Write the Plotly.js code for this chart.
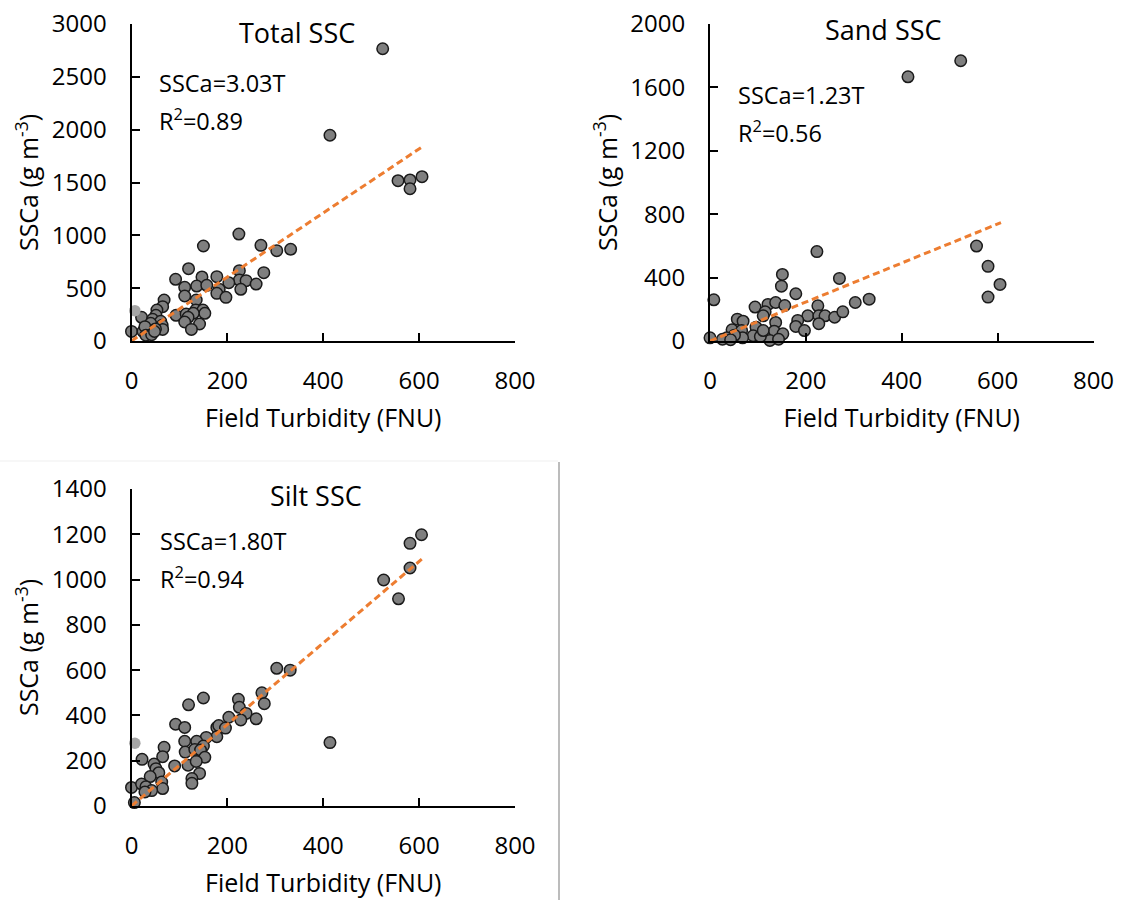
<!DOCTYPE html>
<html>
<head>
<meta charset="utf-8">
<script src="https://cdn.plot.ly/plotly-3.0.1.min.js"></script>
<style>html,body{margin:0;padding:0;background:#fff;}#chart{width:1121px;height:900px;}</style>
</head>
<body>
<div id="chart"></div>
<script>
// ---------- data ----------
const panelTitles = ["Total SSC", "Sand SSC", "Silt SSC"];
const equations = ["SSCa=3.03T", "SSCa=1.23T", "SSCa=1.80T"];
const r2Labels = ["R<sup>2</sup>=0.89", "R<sup>2</sup>=0.56", "R<sup>2</sup>=0.94"];
const slopes = [3.03, 1.23, 1.80];
const fitRange = [0, 607];

const totalX = [224,150,270,303,332,119,225,276,92,147,178,225,239,203,260,111,136,157,183,228,178,111,197,135,68,65,53,134,149,153,93,114,129,118,51,21,44,61,111,142,40,64,125,0,24,36,65,28,50,30,42,48,414,524,556,581,581,606];
const totalY = [1012,899,905,855,868,684,666,647,584,606,609,577,571,552,539,508,520,527,489,489,451,426,413,388,388,325,293,293,293,262,243,255,262,224,243,224,205,186,180,161,167,148,110,91,91,73,110,136,114,55,60,90,1947,2766,1517,1524,1441,1555];
const totalOutX = [7];
const totalOutY = [287];

const sandX = [223,151,149,270,179,8,94,121,137,156,303,332,225,115,111,204,227,240,260,277,183,227,179,197,57,69,137,96,46,66,134,152,114,125,143,90,68,51,35,26,0,105,43,111,413,523,556,580,605,580];
const sandY = [564,420,346,395,298,260,214,231,243,224,243,264,222,184,159,159,159,159,150,184,130,109,92,66,138,125,117,87,71,66,62,45,28,3,11,33,20,37,20,11,20,28,8,66,1667,1768,599,471,357,277];

const siltX = [303,331,150,119,272,277,223,225,239,203,228,260,92,111,178,182,196,178,156,111,136,150,68,112,132,144,65,153,22,118,90,47,51,135,142,126,126,57,39,63,65,0,21,30,42,28,6,605,581,581,526,557,414];
const siltY = [608,600,477,447,500,452,471,436,409,392,380,385,361,347,347,355,344,306,303,286,286,265,259,238,250,247,218,215,206,180,177,185,165,197,144,121,100,147,130,106,77,82,97,85,68,62,15,1198,1160,1051,998,915,280];
const siltOutX = [7];
const siltOutY = [277];

const yRanges = [[0,3000],[0,2000],[0,1400]];
const yDticks = [500,400,200];

// ---------- styling ----------
const FONT = "Open Sans, Noto Sans, sans-serif";
const W = 1121, H = 900;
const marker = {symbol:"circle", size:11.5, color:"#7f7f7f", line:{color:"#1a1a1a", width:1.5}};
const outMarker = {symbol:"circle", size:11.5, color:"#a6a6a6", line:{width:0}};
const fitLine = {color:"#ED7D31", width:3, dash:"7px,4px"};

function pts(xs, ys, ax, mk) {
  return {x:xs, y:ys, xaxis:ax[0], yaxis:ax[1], type:"scatter", mode:"markers",
          marker:mk, cliponaxis:false, showlegend:false, hoverinfo:"x+y"};
}
function fit(i, ax) {
  return {x:fitRange, y:fitRange.map(v => v*slopes[i]), xaxis:ax[0], yaxis:ax[1],
          type:"scatter", mode:"lines", line:fitLine, showlegend:false, cliponaxis:false};
}
const axes = [["x","y"],["x2","y2"],["x3","y3"]];
const traces = [
  pts(totalX, totalY, axes[0], marker), pts(totalOutX, totalOutY, axes[0], outMarker), fit(0, axes[0]),
  pts(sandX, sandY, axes[1], marker), fit(1, axes[1]),
  pts(siltX, siltY, axes[2], marker), pts(siltOutX, siltOutY, axes[2], outMarker), fit(2, axes[2])
];

// pixel boxes [left, right, top, bottom]
const boxes = [[131.5,515,24,341],[710,1093.5,24,341],[131.5,515,489,806]];
function xaxisDef(b, anchor) {
  return {domain:[b[0]/W, b[1]/W], range:[0,800], dtick:200, tick0:0, anchor:anchor,
    showline:true, linecolor:"#000", linewidth:2, ticks:"inside", ticklen:8, tickwidth:2, tickcolor:"#000",
    showgrid:false, zeroline:false, ticklabelstandoff:17,
    tickfont:{family:FONT, size:24, color:"#000"},
    title:{text:"Field Turbidity (FNU)", font:{family:FONT, size:25, color:"#000"}, standoff:15}};
}
function yaxisDef(b, anchor, i) {
  return {domain:[1-b[3]/H, 1-b[2]/H], range:yRanges[i], dtick:yDticks[i], tick0:0, anchor:anchor,
    showline:true, linecolor:"#000", linewidth:2, ticks:"inside", ticklen:8, tickwidth:2, tickcolor:"#000",
    showgrid:false, zeroline:false, ticklabelstandoff:18,
    tickfont:{family:FONT, size:24, color:"#000"},
    title:{text:"SSCa (g m<sup>-3</sup>)", font:{family:FONT, size:25, color:"#000"}, standoff:6}};
}

const titlePos = [[297,32],[883,30],[316,495]];
const eqPos = [[157,83,119],[736,95,131],[158,541,577]];
const annotations = [];
for (let i=0;i<3;i++) {
  annotations.push({text:panelTitles[i], xref:"paper", yref:"paper", x:titlePos[i][0]/W, y:1-titlePos[i][1]/H,
    xanchor:"center", yanchor:"middle", showarrow:false, font:{family:FONT, size:27, color:"#000"}});
  annotations.push({text:equations[i], xref:"paper", yref:"paper", x:eqPos[i][0]/W, y:1-eqPos[i][1]/H,
    xanchor:"left", yanchor:"middle", showarrow:false, font:{family:FONT, size:23.5, color:"#000"}});
  annotations.push({text:r2Labels[i], xref:"paper", yref:"paper", x:eqPos[i][0]/W, y:1-eqPos[i][2]/H,
    xanchor:"left", yanchor:"middle", showarrow:false, font:{family:FONT, size:23.5, color:"#000"}});
}

const layout = {
  width:W, height:H, margin:{l:0,r:0,t:0,b:0}, paper_bgcolor:"#fff", plot_bgcolor:"rgba(0,0,0,0)",
  font:{family:FONT, color:"#000"}, showlegend:false,
  xaxis:xaxisDef(boxes[0],"y"), yaxis:yaxisDef(boxes[0],"x",0),
  xaxis2:xaxisDef(boxes[1],"y2"), yaxis2:yaxisDef(boxes[1],"x2",1),
  xaxis3:xaxisDef(boxes[2],"y3"), yaxis3:yaxisDef(boxes[2],"x3",2),
  annotations:annotations,
  shapes:[
    {type:"line", xref:"paper", yref:"paper", x0:559/W, x1:559/W, y0:0, y1:1-462/H, line:{color:"#a6a6a6", width:1.5}},
    {type:"line", xref:"paper", yref:"paper", x0:0, x1:558/W, y0:1-461/H, y1:1-461/H, line:{color:"#efefef", width:1}}
  ]
};
Plotly.newPlot("chart", traces, layout, {staticPlot:true});
</script>
</body>
</html>
